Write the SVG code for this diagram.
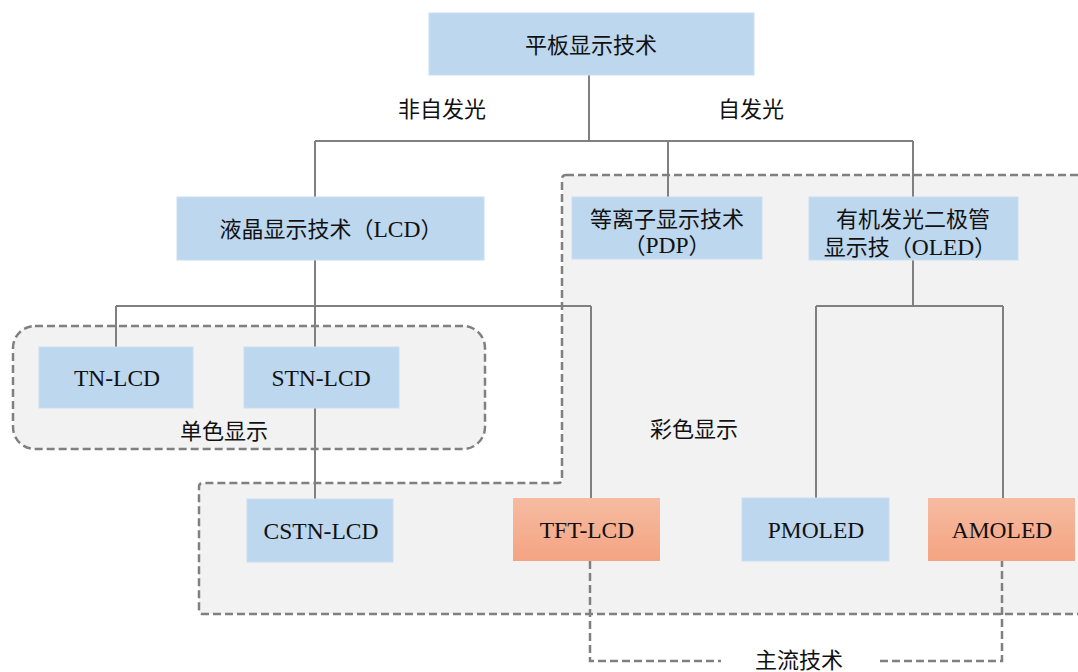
<svg xmlns="http://www.w3.org/2000/svg" width="1078" height="672" viewBox="0 0 1078 672">
<defs>
<linearGradient id="og" x1="0" y1="0" x2="0" y2="1">
<stop offset="0" stop-color="#F6BBA2"/>
<stop offset="1" stop-color="#F4A482"/>
</linearGradient>
<style>
.blue{fill:#BDD7EE;stroke:#C9DEF1;stroke-width:1}
.orange{fill:url(#og)}
.dash{fill:none;stroke:#808080;stroke-width:2.5;stroke-dasharray:8 4}
.region{fill:#F2F2F2;stroke:#808080;stroke-width:2.5;stroke-dasharray:8 4}
.conn{fill:none;stroke:#808080;stroke-width:2}
.t{font-family:"Liberation Serif","Noto Sans CJK SC",serif;font-size:22px;fill:#111;text-anchor:middle}
.lat{font-size:23.5px}
</style>
</defs>
<rect width="1078" height="672" fill="#FFFFFF"/>
<g id="regions">
<path class="region" d="M566,175 H1092 V614 H203 Q199,614 199,610 V487 Q199,483 203,483 H558 Q562,483 562,479 V179 Q562,175 566,175 Z"/>
<rect class="region" x="13" y="326" width="472" height="123" rx="22"/>
</g>
<g id="connectors">
<path class="conn" d="M589,75 V141 M315,141 H913 M315,141 V197 M668,141 V197 M913,141 V197"/>
<path class="conn" d="M315,260 V347 M116,306 H591 M116,306 V347 M591,306 V498 M315,408 V499"/>
<path class="conn" d="M913,260 V306 M816,306 H1003 M816,306 V498 M1003,306 V498"/>
<path class="dash" d="M590,561 V661 H721 M880,661 H1002 V561"/>
</g>
<g id="n-root"><rect class="blue" x="429" y="13" width="325" height="62"/><text class="t" x="591" y="53">平板显示技术</text></g>
<g id="l-nonself"><text class="t" x="442" y="117">非自发光</text></g>
<g id="l-self"><text class="t" x="751" y="117">自发光</text></g>
<g id="n-lcd"><rect class="blue" x="177" y="197" width="307" height="63"/><text class="t" x="331" y="237">液晶显示技术（<tspan class="lat">LCD</tspan>）</text></g>
<g id="n-pdp"><rect class="blue" x="572" y="197" width="190" height="62"/><text class="t" x="667" y="227">等离子显示技术</text><text class="t" x="667" y="253">（<tspan class="lat">PDP</tspan>）</text></g>
<g id="n-oled"><rect class="blue" x="809" y="197" width="209" height="63"/><text class="t" x="913" y="227">有机发光二极管</text><text class="t" x="910" y="255">显示技（<tspan class="lat">OLED</tspan>）</text></g>
<g id="n-tn"><rect class="blue" x="39" y="347" width="154" height="61"/><text class="t lat" x="117" y="386">TN-LCD</text></g>
<g id="n-stn"><rect class="blue" x="244" y="347" width="155" height="61"/><text class="t lat" x="321" y="386">STN-LCD</text></g>
<g id="l-mono"><text class="t" x="224" y="439">单色显示</text></g>
<g id="l-color"><text class="t" x="694" y="437">彩色显示</text></g>
<g id="n-cstn"><rect class="blue" x="247" y="499" width="146" height="63"/><text class="t lat" x="321" y="539">CSTN-LCD</text></g>
<g id="n-tft"><rect class="orange" x="513" y="498" width="147" height="63"/><text class="t lat" x="587" y="538">TFT-LCD</text></g>
<g id="n-pmoled"><rect class="blue" x="742" y="498" width="147" height="63"/><text class="t lat" x="816" y="538">PMOLED</text></g>
<g id="n-amoled"><rect class="orange" x="928" y="498" width="147" height="63"/><text class="t lat" x="1002" y="538">AMOLED</text></g>
<g id="l-main"><text class="t" x="799" y="668">主流技术</text></g>
</svg>
